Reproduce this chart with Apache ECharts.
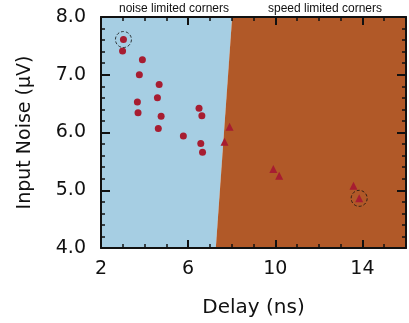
<!DOCTYPE html>
<html>
<head>
<meta charset="utf-8">
<script src="https://cdn.jsdelivr.net/npm/echarts@6/dist/echarts.min.js"></script>
<style>
  html, body { margin: 0; padding: 0; background: #fff; }
  #chart { width: 409px; height: 323px; }
</style>
</head>
<body>
<div id="chart"></div>
<script>
// noise limited corners (circles)
const noiseDelay = [3.03, 2.99, 3.90, 3.76, 4.67, 4.59, 3.67, 3.70, 4.76, 4.63, 5.78, 6.50, 6.63, 6.58, 6.66]
const noiseValue = [7.61, 7.41, 7.26, 7.00, 6.83, 6.60, 6.53, 6.34, 6.28, 6.07, 5.94, 6.42, 6.29, 5.81, 5.66]
// speed limited corners (triangles)
const speedDelay = [7.90, 7.67, 9.91, 10.18, 13.59, 13.85]
const speedValue = [6.10, 5.84, 5.37, 5.25, 5.08, 4.86]
// circled corners
const pickedDelay = [3.03, 13.85]
const pickedValue = [7.61, 4.86]
// region split line, bottom -> top
const splitDelay = [7.27, 8.02]
const splitNoise = [4.0, 8.0]
const xTicks = [2, 6, 10, 14]
const yTicks = ['4.0', '5.0', '6.0', '7.0', '8.0']

const xMin = 2, xMax = 16, yMin = 4, yMax = 8
const noiseRegion = [[xMin, yMin], [splitDelay[0], splitNoise[0]], [splitDelay[1], splitNoise[1]], [xMin, yMax]]
const speedRegion = [[splitDelay[0], splitNoise[0]], [xMax, yMin], [xMax, yMax], [splitDelay[1], splitNoise[1]]]

const zip = (xs, ys) => xs.map((x, i) => [x, ys[i]])

function regionSeries(points, color) {
  return {
    type: 'custom',
    z: 1,
    silent: true,
    data: [[0, 0]],
    renderItem: (params, api) => ({
      type: 'polygon',
      shape: { points: points.map((p) => api.coord(p)) },
      style: { fill: color },
    }),
  }
}

const frame = { lineStyle: { color: '#111', width: 2 } }
const font = 'DejaVu Sans'
const noteStyle = { fontFamily: 'Liberation Sans', fontSize: 12, fontWeight: 'normal', color: '#111' }

const chart = echarts.init(document.getElementById('chart'))
chart.setOption({
  animation: false,
  backgroundColor: '#fff',
  title: [
    { text: 'noise limited corners', left: 169, top: -2, textAlign: 'center', textStyle: noteStyle },
    { text: 'speed limited corners', left: 320, top: -2, textAlign: 'center', textStyle: noteStyle },
  ],
  grid: { left: 101, right: 3, top: 17, bottom: 75 },
  xAxis: [
    {
      type: 'value', min: xMin, max: xMax, interval: 4, z: 5,
      name: 'Delay (ns)', nameLocation: 'middle', nameGap: 50,
      nameTextStyle: { fontFamily: font, fontSize: 20, color: '#111' },
      axisLine: frame,
      axisTick: { inside: true, length: 8, lineStyle: { color: '#111', width: 2 } },
      minorTick: { show: true, splitNumber: 4, length: 4, lineStyle: { color: '#111', width: 1.5 } },
      splitLine: { show: false },
      axisLabel: { fontFamily: font, fontSize: 19, color: '#111', margin: 12, formatter: (v) => xTicks.includes(v) ? String(v) : '' },
    },
    {
      type: 'value', position: 'top', min: xMin, max: xMax, interval: 4, z: 5,
      axisLine: frame,
      axisTick: { inside: true, length: 8, lineStyle: { color: '#111', width: 2 } },
      minorTick: { show: true, splitNumber: 4, length: 4, lineStyle: { color: '#111', width: 1.5 } },
      splitLine: { show: false },
      axisLabel: { show: false },
    },
  ],
  yAxis: [
    {
      type: 'value', min: yMin, max: yMax, interval: 1, z: 5,
      name: 'Input Noise (μV)', nameLocation: 'middle', nameGap: 66,
      nameTextStyle: { fontFamily: font, fontSize: 19, color: '#111' },
      axisLine: frame,
      axisTick: { inside: true, length: 9, lineStyle: { color: '#111', width: 2 } },
      minorTick: { show: true, splitNumber: 5, length: 4, lineStyle: { color: '#111', width: 1.5 } },
      splitLine: { show: false },
      axisLabel: { fontFamily: font, fontSize: 19, color: '#111', margin: 15, formatter: (v) => yTicks[Math.round(v - yMin)] },
    },
    {
      type: 'value', position: 'right', min: yMin, max: yMax, interval: 1, z: 5,
      axisLine: frame,
      axisTick: { inside: true, length: 9, lineStyle: { color: '#111', width: 2 } },
      minorTick: { show: true, splitNumber: 5, length: 4, lineStyle: { color: '#111', width: 1.5 } },
      splitLine: { show: false },
      axisLabel: { show: false },
    },
  ],
  series: [
    regionSeries(noiseRegion, '#a6cee3'),
    regionSeries(speedRegion, '#b15928'),
    {
      type: 'scatter', z: 3, symbol: 'circle', symbolSize: 7,
      itemStyle: { color: '#a71d31', opacity: 1 },
      data: zip(noiseDelay, noiseValue),
    },
    {
      type: 'scatter', z: 3, symbol: 'triangle', symbolSize: 8,
      itemStyle: { color: '#a71d31', opacity: 1 },
      data: zip(speedDelay, speedValue),
    },
    {
      type: 'scatter', z: 4, symbol: 'circle', symbolSize: 16,
      itemStyle: { color: 'transparent', borderColor: '#111', borderWidth: 1, borderType: [3, 2] },
      data: zip(pickedDelay, pickedValue),
    },
  ],
})
</script>
</body>
</html>
